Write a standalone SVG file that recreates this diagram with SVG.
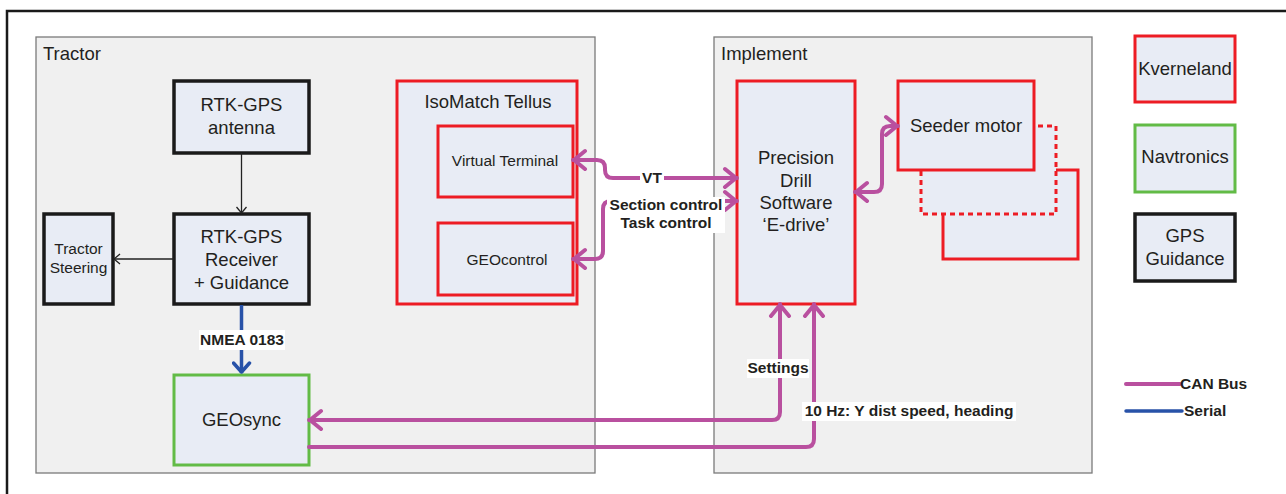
<svg xmlns="http://www.w3.org/2000/svg" width="1286" height="494" viewBox="0 0 1286 494">
<style>
text{font-family:"Liberation Sans",Arial,sans-serif;fill:#231f20}
.big{font-size:18.5px}
.sm{font-size:15.5px}
.b{font-size:15.5px;font-weight:bold}
.cont{fill:#f0f0f0;stroke:#7a7a7a;stroke-width:1.3}
.kv{fill:#e8ecf5;stroke:#ed1c24;stroke-width:3}
.nav{fill:#e8ecf5;stroke:#62bb46;stroke-width:3}
.gps{fill:#e8ecf5;stroke:#1a1a1a;stroke-width:3.5}
.can{fill:none;stroke:#b9509f;stroke-width:4;stroke-linecap:round;stroke-linejoin:round}
.ser{fill:none;stroke:#2852a8;stroke-width:3.5}
.thin{fill:none;stroke:#222;stroke-width:1.3}
.lbg{fill:#fff}
</style>
<defs>
<marker id="mc" viewBox="-15 -12 17 24" refX="1" refY="0" markerWidth="17" markerHeight="24" markerUnits="userSpaceOnUse" orient="auto-start-reverse">
<path d="M-11,-9 L0,0 L-11,9" fill="none" stroke="#b9509f" stroke-width="4" stroke-linecap="round" stroke-linejoin="round"/>
</marker>
<marker id="ms" viewBox="-12 -10 14 20" refX="1" refY="0" markerWidth="14" markerHeight="20" markerUnits="userSpaceOnUse" orient="auto">
<path d="M-9,-8 L0,0 L-9,8" fill="none" stroke="#2852a8" stroke-width="3.5" stroke-linecap="round" stroke-linejoin="round"/>
</marker>
<marker id="mt" viewBox="-8 -7 9 14" refX="0" refY="0" markerWidth="9" markerHeight="14" markerUnits="userSpaceOnUse" orient="auto">
<path d="M-6,-5 L0,0 L-6,5" fill="none" stroke="#222" stroke-width="1.3"/>
</marker>
</defs>
<rect x="7" y="11" width="1300" height="500" fill="#fff" stroke="#1a1a1a" stroke-width="2.5"/>
<g id="tractor">
<rect class="cont" x="36" y="37" width="559" height="436"/>
<text class="big" x="43" y="60">Tractor</text>
</g>
<g id="implement">
<rect class="cont" x="714" y="37" width="378" height="436"/>
<text class="big" x="721" y="60">Implement</text>
</g>
<g id="rtk-antenna">
<rect class="gps" x="174" y="81" width="135" height="72"/>
<text class="big" x="241.5" y="111" text-anchor="middle">RTK-GPS</text>
<text class="big" x="241.5" y="134" text-anchor="middle">antenna</text>
</g>
<g id="rtk-receiver">
<rect class="gps" x="174" y="214" width="135" height="90"/>
<text class="big" x="241.5" y="243" text-anchor="middle">RTK-GPS</text>
<text class="big" x="241.5" y="266" text-anchor="middle">Receiver</text>
<text class="big" x="241.5" y="289" text-anchor="middle">+ Guidance</text>
</g>
<g id="tractor-steering">
<rect class="gps" x="44" y="214" width="69" height="90"/>
<text class="sm" x="78.5" y="254" text-anchor="middle">Tractor</text>
<text class="sm" x="78.5" y="273" text-anchor="middle">Steering</text>
</g>
<g id="geosync">
<rect class="nav" x="174" y="375" width="135" height="90"/>
<text class="big" x="241.5" y="426" text-anchor="middle">GEOsync</text>
</g>
<g id="isomatch">
<rect class="kv" x="397" y="81" width="180" height="223"/>
<text class="big" x="488" y="108" text-anchor="middle">IsoMatch Tellus</text>
</g>
<g id="virtual-terminal">
<rect class="kv" x="438" y="126" width="135" height="71"/>
<text class="sm" x="505" y="166" text-anchor="middle">Virtual Terminal</text>
</g>
<g id="geocontrol">
<rect class="kv" x="438" y="223" width="135" height="72"/>
<text class="sm" x="507" y="265" text-anchor="middle">GEOcontrol</text>
</g>
<g id="precision-drill">
<rect class="kv" x="737" y="81" width="118" height="223"/>
<text class="big" x="796" y="164" text-anchor="middle">Precision</text>
<text class="big" x="796" y="187" text-anchor="middle">Drill</text>
<text class="big" x="796" y="209" text-anchor="middle">Software</text>
<text class="big" x="796" y="231" text-anchor="middle">‘E-drive’</text>
</g>
<g id="seeder-motor">
<rect class="kv" x="943" y="170" width="135" height="89"/>
<rect class="kv" x="921" y="126" width="135" height="88" stroke-dasharray="5,4"/>
<rect class="kv" x="898" y="81" width="136" height="89"/>
<text class="big" x="966" y="132" text-anchor="middle">Seeder motor</text>
</g>
<g id="legend">
<rect class="kv" x="1135" y="36" width="100" height="66"/>
<text class="big" x="1185" y="75" text-anchor="middle">Kverneland</text>
<rect class="nav" x="1135" y="125" width="100" height="67"/>
<text class="big" x="1185" y="163" text-anchor="middle">Navtronics</text>
<rect class="gps" x="1135" y="214" width="100" height="67"/>
<text class="big" x="1185" y="242" text-anchor="middle">GPS</text>
<text class="big" x="1185" y="265" text-anchor="middle">Guidance</text>
<line class="can" x1="1126" y1="384" x2="1180" y2="384"/>
<text class="b" x="1180" y="389">CAN Bus</text>
<line class="ser" x1="1126" y1="411" x2="1182" y2="411" stroke-linecap="round"/>
<text class="b" x="1184" y="416">Serial</text>
</g>
<g id="connectors">
<line class="thin" x1="241.5" y1="153" x2="241.5" y2="213" marker-end="url(#mt)"/>
<line class="thin" x1="174" y1="259" x2="114" y2="259" marker-end="url(#mt)"/>
<line class="ser" x1="241.5" y1="305" x2="241.5" y2="373" marker-end="url(#ms)"/>
<path class="can" d="M573,160 H597 Q605,160 605,168 V170 Q605,178 613,178 H737" marker-start="url(#mc)" marker-end="url(#mc)"/>
<path class="can" d="M573,259 H595 Q603,259 603,251 V209 Q603,201 611,201 H737" marker-start="url(#mc)" marker-end="url(#mc)"/>
<path class="can" d="M855,192 H874 Q882,192 882,184 V134 Q882,126 890,126 H898" marker-start="url(#mc)" marker-end="url(#mc)"/>
<path class="can" d="M309,420 H772 Q780,420 780,412 V304" marker-start="url(#mc)" marker-end="url(#mc)"/>
<path class="can" d="M309,447 H806 Q814,447 814,439 V304" marker-end="url(#mc)"/>
</g>
<g id="labels">
<rect class="lbg" x="199" y="330" width="86" height="20"/>
<text class="b" x="242" y="345" text-anchor="middle">NMEA 0183</text>
<rect class="lbg" x="640" y="169" width="24" height="18"/>
<text class="b" x="652" y="183" text-anchor="middle">VT</text>
<rect class="lbg" x="607" y="197" width="118" height="36"/>
<text class="b" x="666" y="210" text-anchor="middle">Section control</text>
<text class="b" x="666" y="228" text-anchor="middle">Task control</text>
<rect class="lbg" x="747" y="359" width="62" height="19"/>
<text class="b" x="778" y="373" text-anchor="middle">Settings</text>
<rect class="lbg" x="802" y="402" width="214" height="19"/>
<text class="b" x="909" y="416" text-anchor="middle">10 Hz: Y dist speed, heading</text>
</g>
</svg>
